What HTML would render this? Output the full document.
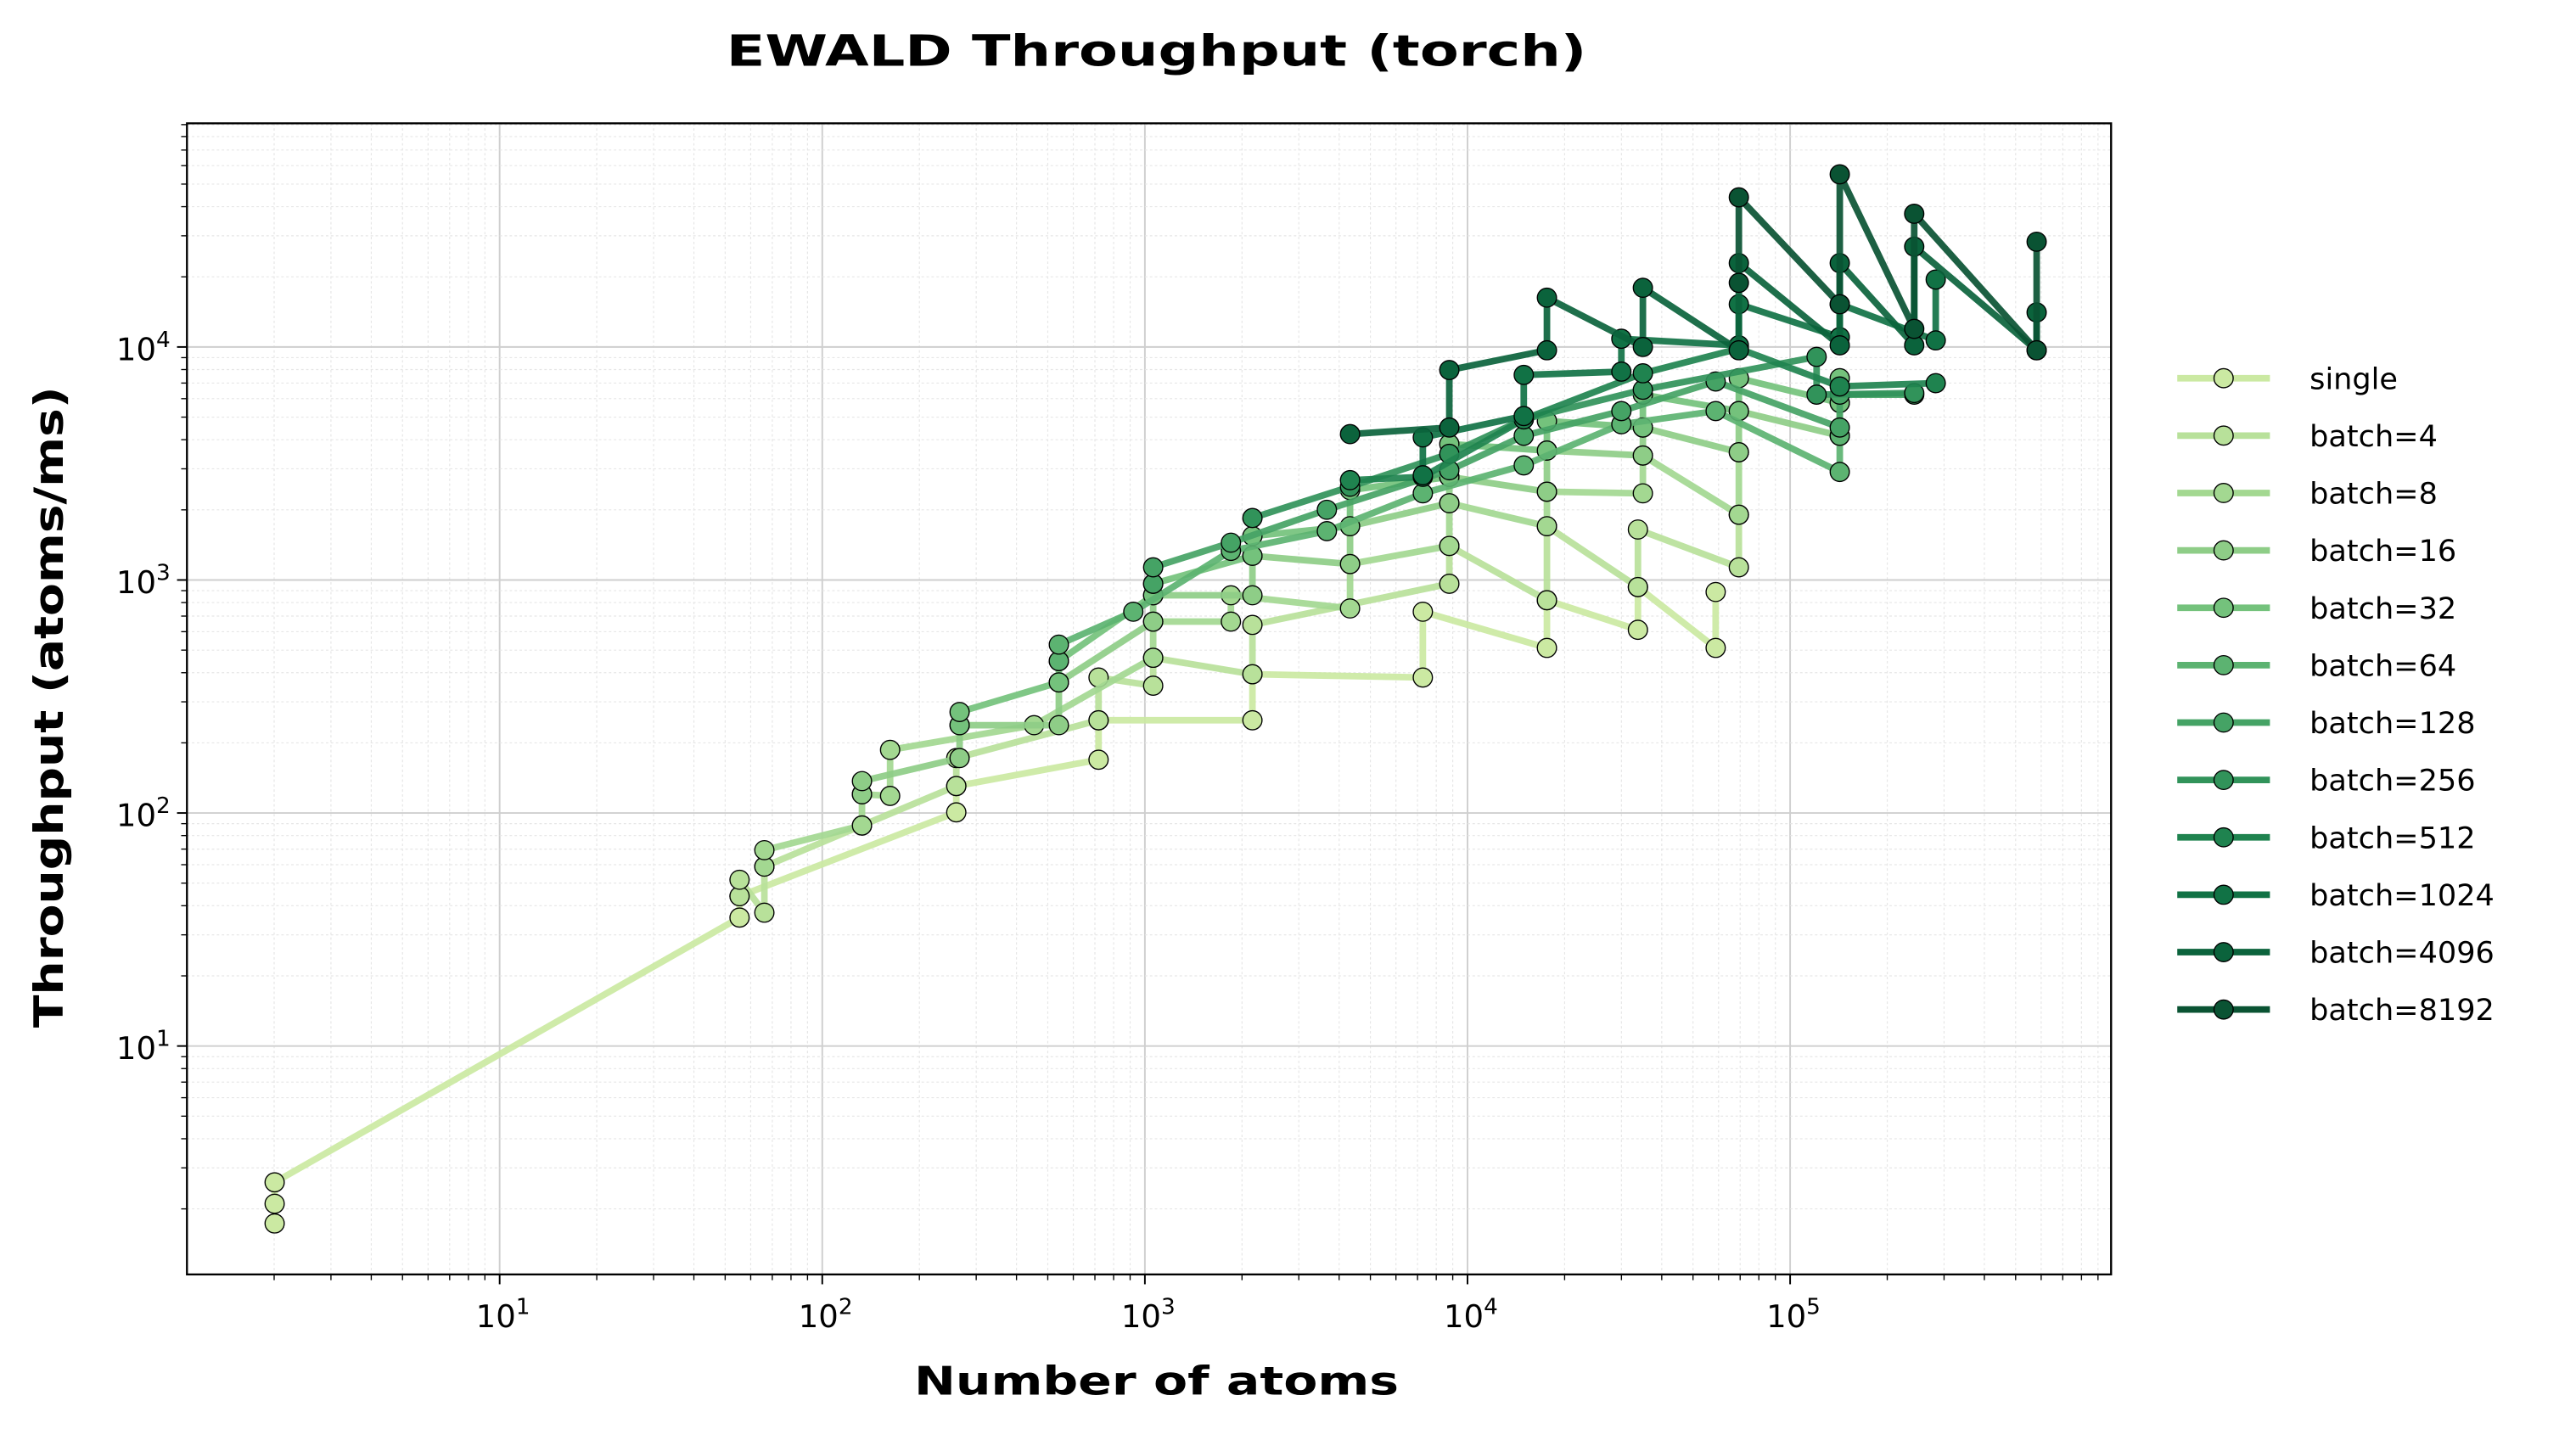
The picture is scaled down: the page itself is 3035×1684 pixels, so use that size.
<!DOCTYPE html>
<html><head><meta charset="utf-8"><style>
html,body{margin:0;padding:0;background:#fff;}
svg{display:block;}
text{font-family:"DejaVu Sans","Liberation Sans",sans-serif;fill:#000;}
</style></head><body>
<svg id="s" width="3035" height="1684" viewBox="0 0 1557 869" preserveAspectRatio="none" xmlns="http://www.w3.org/2000/svg">
<rect x="0" y="0" width="1557" height="869" fill="#fff"/>
<g id="grid"></g>
<g id="data"></g>
<rect x="113" y="75" width="1163" height="700" fill="none" stroke="#000" stroke-width="1.2"/>
<g id="ticks"></g>
<text x="699" y="40" text-anchor="middle" font-size="26" font-weight="bold" textLength="520" lengthAdjust="spacingAndGlyphs">EWALD Throughput (torch)</text>
<text x="699" y="848" text-anchor="middle" font-size="24" font-weight="bold" textLength="293" lengthAdjust="spacingAndGlyphs">Number of atoms</text>
<text transform="translate(38,430) rotate(-90)" text-anchor="middle" font-size="24" font-weight="bold" textLength="390" lengthAdjust="spacingAndGlyphs">Throughput (atoms/ms)</text>
<g id="legend"></g>
</svg>
<script>
const NS="http://www.w3.org/2000/svg";
function el(t,a,p){const e=document.createElementNS(NS,t);for(const k in a)e.setAttribute(k,a[k]);if(p)p.appendChild(e);return e;}
const L=113,R=1276,T=75,B=775;
const xp=v=>302+(Math.log10(v)-1)*195;
const yp=v=>211-(Math.log10(v)-4)*141.7;
const grid=document.getElementById('grid'),ticks=document.getElementById('ticks');
function lab(x,y,d,anchor){const t=el('text',{x:x,y:y,'text-anchor':anchor,'font-size':19},ticks);
 const a=el('tspan',{},t);a.textContent='10';const b=el('tspan',{dy:-8,'font-size':13.5},t);b.textContent=String(d);}
for(let d=0;d<6;d++){for(let m=1;m<10;m++){const v=m*Math.pow(10,d);const x=xp(v);if(x<L||x>R)continue;
 if(m==1){el('line',{x1:x,y1:T,x2:x,y2:B,stroke:'#cfcfcf','stroke-width':1},grid);
  el('line',{x1:x,y1:B,x2:x,y2:B+6,stroke:'#000','stroke-width':1},ticks);
  lab(x+2,B+32,d,'middle');
 } else {el('line',{x1:x,y1:T,x2:x,y2:B,stroke:'#e6e6e6','stroke-width':0.6,'stroke-dasharray':'1.5,1.5'},grid);
  el('line',{x1:x,y1:B,x2:x,y2:B+3.5,stroke:'#000','stroke-width':0.7},ticks);}
}}
for(let d=0;d<5;d++){for(let m=1;m<10;m++){const v=m*Math.pow(10,d);const y=yp(v);if(y<T||y>B)continue;
 if(m==1){el('line',{x1:L,y1:y,x2:R,y2:y,stroke:'#cfcfcf','stroke-width':1},grid);
  el('line',{x1:L-6,y1:y,x2:L,y2:y,stroke:'#000','stroke-width':1},ticks);
  lab(L-10,y+8,d,'end');
 } else {el('line',{x1:L,y1:y,x2:R,y2:y,stroke:'#e6e6e6','stroke-width':0.6,'stroke-dasharray':'1.5,1.5'},grid);
  el('line',{x1:L-3.5,y1:y,x2:L,y2:y,stroke:'#000','stroke-width':0.7},ticks);}
}}
const cols=['#cbe9a2','#b8e19a','#a3d891','#8ecd87','#74c27c','#5cb371','#45a365','#31935a','#1f834f','#117245','#0b633c','#0a5333'];
const names=['single','batch=4','batch=8','batch=16','batch=32','batch=64','batch=128','batch=256','batch=512','batch=1024','batch=4096','batch=8192'];
const S=[
[[166,[744,732,719]],[447,[558,545]],[578,[494,478]],[664,[462,438]],[757,[438,410]],[860,[412,372]],[935,[394,365]],[990,[383,357]],[1037,[394,360]]],
[[447,[545,535]],[462,[555,527]],[521,[502]],[578,[478,461]],[664,[438,412]],[697,[417,400]],[757,[410,380]],[876,[355,332]],[935,[365,320]],[990,[357,322]],[1051,[345,313]]],
[[462,[527,517]],[521,[502,483]],[538,[484,456]],[625,[441]],[697,[400,378]],[744,[378,362]],[816,[370,343]],[876,[332,306]],[935,[320,299]],[993,[300,277]],[1051,[313,275]]],
[[521,[483,475]],[580,[461,441]],[640,[441,415]],[697,[378,362]],[757,[362,338]],[816,[343,320]],[876,[306,290]],[935,[299,274]],[993,[277,260]],[1051,[275,250]],[1112,[265,245]]],
[[580,[441,433]],[640,[415,402]],[697,[362,355]],[757,[338,326]],[816,[320,298]],[876,[290,270]],[935,[274,256]],[993,[260,240]],[1051,[250,230]],[1112,[245,230]]],
[[640,[402,392]],[685,[372]],[744,[335]],[802,[323]],[860,[300]],[921,[283]],[980,[258]],[1037,[250]],[1112,[287,265]]],
[[697,[355,345]],[744,[330]],[802,[310]],[876,[286]],[921,[265]],[980,[250]],[1037,[232]],[1112,[260,240]],[1157,[240]]],
[[757,[315]],[816,[296]],[876,[276]],[921,[255]],[993,[237]],[1098,[217,240]],[1157,[239]]],
[[816,[292]],[860,[290]],[921,[255]],[993,[227]],[1051,[212]],[1112,[235]],[1170,[233]]],
[[860,[289,266]],[921,[253,228]],[980,[226,206]],[1051,[210,185]],[1112,[205,185]],[1170,[207,170]]],
[[816,[264]],[876,[260,225]],[935,[213,181]],[993,[211,175]],[1051,[213,160]],[1112,[210,160]],[1157,[210,150]],[1231,[213,190]]],
[[1051,[172,120]],[1112,[185,106]],[1157,[200,130]],[1231,[213,147]]]
];
const data=document.getElementById('data');
S.forEach((ser,i)=>{
 const pts=[];ser.forEach(([x,ys])=>ys.forEach(y=>pts.push([x,y])));
 el('polyline',{points:pts.map(p=>p.join(',')).join(' '),fill:'none',stroke:cols[i],'stroke-width':4,'stroke-linejoin':'round','stroke-opacity':0.92},data);
 pts.forEach(p=>el('circle',{cx:p[0],cy:p[1],r:5.8,fill:cols[i],stroke:'#000','stroke-width':0.7},data));
});
const lg=document.getElementById('legend');
names.forEach((n,i)=>{const y=230+i*34.9;
 el('line',{x1:1316,y1:y,x2:1372,y2:y,stroke:cols[i],'stroke-width':4},lg);
 el('circle',{cx:1344,cy:y,r:5.8,fill:cols[i],stroke:'#000','stroke-width':0.7},lg);
 const t=el('text',{x:1396,y:y+6.5,'font-size':18},lg);t.textContent=n;});
</script>
</body></html>
